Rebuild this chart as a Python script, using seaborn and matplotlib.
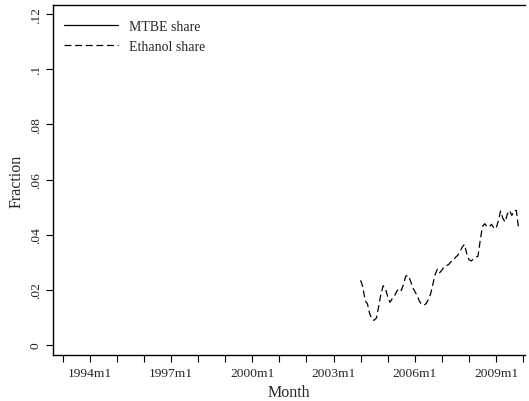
import numpy as np
import pandas as pd
import matplotlib
matplotlib.use("Agg")
import matplotlib.pyplot as plt
import seaborn as sns
from matplotlib.lines import Line2D

# ---- data ----
start_year = 2004  # ethanol series starts 2004m1, monthly
ethanol_share = [
    0.0235, 0.0210, 0.0160, 0.0150, 0.0115, 0.0092, 0.0090, 0.0098, 0.0140, 0.0185,
    0.0215, 0.0205, 0.0175, 0.0155, 0.0168, 0.0178, 0.0195, 0.0205, 0.0198, 0.0220,
    0.0250, 0.0253, 0.0235, 0.0210, 0.0195, 0.0180, 0.0160, 0.0148, 0.0145, 0.0150,
    0.0165, 0.0185, 0.0220, 0.0255, 0.0275, 0.0262, 0.0272, 0.0284, 0.0288, 0.0292,
    0.0302, 0.0306, 0.0318, 0.0325, 0.0338, 0.0355, 0.0365, 0.0332, 0.0310, 0.0305,
    0.0312, 0.0318, 0.0322, 0.0380, 0.0430, 0.0440, 0.0430, 0.0428, 0.0438, 0.0425,
    0.0422, 0.0450, 0.0486, 0.0460, 0.0446, 0.0475, 0.0488, 0.0470, 0.0488, 0.0488,
    0.0422,
]
mtbe_share = []  # no MTBE observations drawn in the chart
xtick_years = [1994, 1997, 2000, 2003, 2006, 2009]
xtick_labels = ["1994m1", "1997m1", "2000m1", "2003m1", "2006m1", "2009m1"]
ytick_values = [0, 0.02, 0.04, 0.06, 0.08, 0.10, 0.12]
ytick_labels = ["0", ".02", ".04", ".06", ".08", ".1", ".12"]

df = pd.DataFrame({
    "month": [start_year + i / 12 for i in range(len(ethanol_share))],
    "share": ethanol_share,
})

sns.set_theme(style="white")
plt.rcParams["font.family"] = ["Liberation Serif", "DejaVu Serif"]

fig = plt.figure(figsize=(5.29, 4.02), dpi=100)
ax = fig.add_axes([53 / 529, 46 / 402, (525 - 53) / 529, (356 - 6) / 402])

sns.lineplot(data=df, x="month", y="share", ax=ax, color="black",
             linewidth=0.9, linestyle=(0, (5.5, 3)))

ax.set_xlim(1992.64, 2010.07)
ax.set_ylim(-0.0036, 0.1233)

ax.set_xticks(list(range(1993, 2011)))
ax.set_xticklabels([xtick_labels[xtick_years.index(y)] if y in xtick_years else "" for y in range(1993, 2011)])
ax.set_yticks(ytick_values)
ax.set_yticklabels(ytick_labels, rotation=90, va="center")

ax.tick_params(axis="both", which="major", direction="out", length=5, width=0.8,
               color="black", labelsize=9.7, pad=3, left=True, bottom=True)
ax.tick_params(axis="x", pad=4)

for side in ["left", "bottom", "top"]:
    ax.spines[side].set_visible(True)
    ax.spines[side].set_color("black")
    ax.spines[side].set_linewidth(1.0)
ax.spines["right"].set_visible(False)

ax.set_xlabel("Month", fontsize=11.5, labelpad=3)
ax.set_ylabel("Fraction", fontsize=11.5, labelpad=4)

handles = [
    Line2D([], [], color="black", linewidth=0.9, linestyle="-"),
    Line2D([], [], color="black", linewidth=0.9, linestyle=(0, (5.5, 3))),
]
ax.legend(handles, ["MTBE share", "Ethanol share"], loc="upper left",
          frameon=False, fontsize=10, handlelength=3.9, handletextpad=0.8,
          labelspacing=0.5, borderaxespad=0.0, bbox_to_anchor=(0.012, 0.972))

fig.savefig("out.png", dpi=100)
